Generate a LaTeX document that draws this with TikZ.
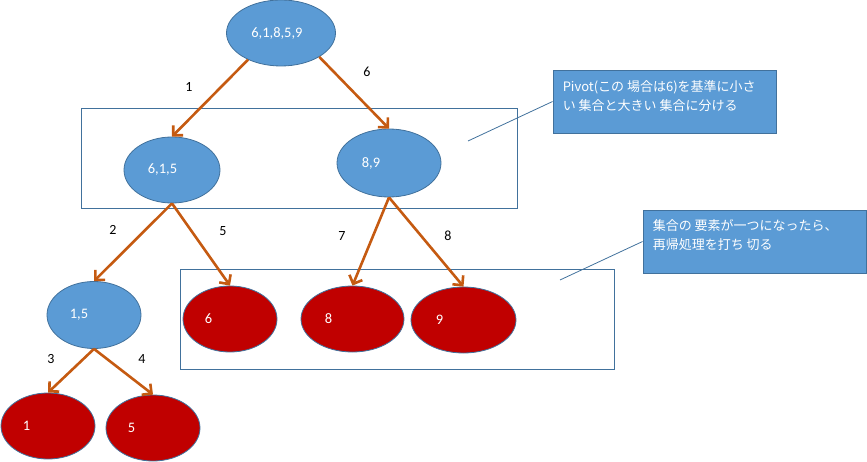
\documentclass[tikz,border=0pt]{standalone}
\usepackage{fontspec}
\setmainfont{Carlito}
\newfontfamily\jpfont{Noto Sans CJK JP}
\usetikzlibrary{shapes.geometric,arrows.meta,calc}
\definecolor{nodeblue}{HTML}{5B9BD5}
\definecolor{edgeblue}{HTML}{41719C}
\definecolor{leafred}{HTML}{C00000}
\definecolor{arrowor}{HTML}{C55A11}
\begin{document}
\begin{tikzpicture}[x=1pt,y=-1pt,
  inner/.style={ellipse, draw=edgeblue, line width=0.8pt, fill=nodeblue, inner sep=0pt},
  leaf/.style={ellipse, draw=edgeblue, line width=0.8pt, fill=leafred, inner sep=0pt},
  val/.style={text=white, font=\fontsize{14.5}{16}\selectfont, anchor=west, inner sep=0pt},
  edgelab/.style={font=\fontsize{14}{16}\selectfont, inner sep=0pt},
  tree/.style={draw=arrowor, line width=2.6pt, -{Straight Barb[length=7pt,width=14pt]}},
  frame/.style={draw=edgeblue, line width=0.9pt},
  callout/.style={draw=edgeblue, line width=0.9pt, fill=nodeblue, minimum width=223pt, minimum height=63pt, inner sep=0pt},
  callouttext/.style={text=white, font=\jpfont\fontsize{13}{18.5}\selectfont, align=left, anchor=north west, inner sep=0pt},
  pointer/.style={draw=edgeblue, line width=0.8pt}]
\useasboundingbox (0,0) rectangle (867,462);

% frames
\draw[frame] (81,108) rectangle (517,208);
\draw[frame] (180,269) rectangle (614,369);

% tree nodes
\node[inner, minimum width=109pt, minimum height=66pt] (root) at (281,33) {};
\node[inner, minimum width=96pt, minimum height=66pt] (n615) at (172,170) {};
\node[inner, minimum width=104pt, minimum height=68pt] (n89) at (389,163) {};
\node[inner, minimum width=94pt, minimum height=67pt] (n15) at (94,315) {};
\node[leaf, minimum width=94pt, minimum height=66pt] (l6) at (230,319) {};
\node[leaf, minimum width=103pt, minimum height=66pt] (l8) at (352.5,319) {};
\node[leaf, minimum width=105pt, minimum height=66pt] (l9) at (463.5,320) {};
\node[leaf, minimum width=94pt, minimum height=66pt] (l1) at (48,426) {};
\node[leaf, minimum width=94pt, minimum height=66pt] (l5) at (153,428) {};

% values
\node[val] (t0) at ($(root.west)+(25,0)$) {6,1,8,5,9};
\node[val] (t615) at ($(n615.west)+(24,0)$) {6,1,5};
\node[val] (t89) at ($(n89.west)+(25,0)$) {8,9};
\node[val] (t15) at ($(n15.west)+(23,0)$) {1,5};
\node[val] (t6) at ($(l6.west)+(22,0)$) {6};
\node[val] (t8) at ($(l8.west)+(24,0)$) {8};
\node[val] (t9) at ($(l9.west)+(25,0)$) {9};
\node[val] (t1) at ($(l1.west)+(22,0)$) {1};
\node[val] (t5) at ($(l5.west)+(22,0)$) {5};

% tree edges
\draw[tree] (root.-141) -- (n615.north);
\draw[tree] (root.-32) -- (n89.north);
\draw[tree] (n615.south) -- (n15.north);
\draw[tree] (n615.south) -- (l6.north);
\draw[tree] (n89.south) -- (l8.north);
\draw[tree] (n89.south) -- (l9.north);
\draw[tree] (n15.south) -- (l1.north);
\draw[tree] (n15.south) -- (l5.north);

% edge labels
\node[edgelab] (e1) at (189,87) {1};
\node[edgelab] (e6) at (367,72) {6};
\node[edgelab] (e2) at (113,230) {2};
\node[edgelab] (e5) at (223,231) {5};
\node[edgelab] (e7) at (342,236) {7};
\node[edgelab] (e8) at (448,236) {8};
\node[edgelab] (e3) at (51,359) {3};
\node[edgelab] (e4) at (142,359) {4};

% callouts
\node[callout] (box1) at (664.5,101.5) {};
\node[callouttext] (box1t) at ($(box1.north west)+(10,11)$) {Pivot(この 場合は6)を基準に小さ\\い 集合と大きい 集合に分ける};
\node[callout] (box2) at (754.5,241.5) {};
\node[callouttext] (box2t) at ($(box2.north west)+(10,10)$) {集合の 要素が一つになったら、\\再帰処理を打ち 切る};

\coordinate (pA) at (468,141);
\coordinate (pB) at (560,280);
\draw[pointer] (pA) -- (box1.west);
\draw[pointer] (pB) -- (box2.west);
\end{tikzpicture}
\end{document}
